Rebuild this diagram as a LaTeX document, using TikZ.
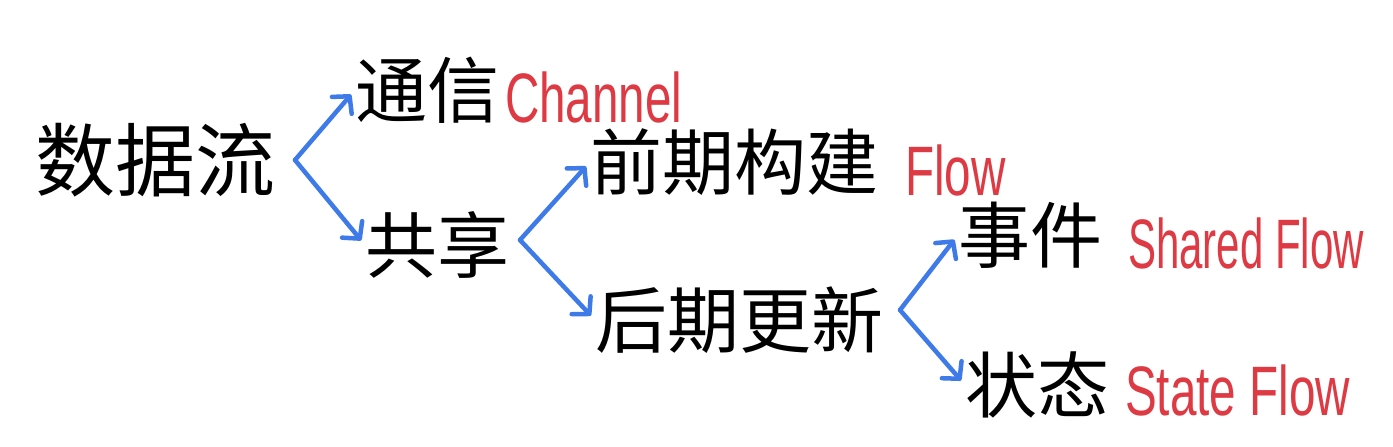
\documentclass[tikz,border=0pt]{standalone}
\usepackage{fontspec}
\newfontfamily\cjk{Noto Sans CJK SC}
\setmainfont{Liberation Sans}
\usetikzlibrary{arrows.meta}
\definecolor{redt}{RGB}{222,58,68}
\definecolor{bluea}{RGB}{62,122,232}
\begin{document}
\begin{tikzpicture}[x=1pt,y=-1pt,
 zh/.style={font=\cjk\fontsize{72}{72}\selectfont, inner sep=0pt, anchor=west},
 en/.style={font=\fontsize{70}{70}\selectfont, text=redt, xscale=0.68, inner sep=0pt, anchor=west},
 arr/.style={draw=bluea, line width=4.5pt, line cap=round, line join=round, shorten >=6pt,
   -{Straight Barb[length=12pt,width=26pt,line width=4.5pt,round]}}]
\fill[white] (0,0) rectangle (1393,447);
\useasboundingbox (0,0) rectangle (1393,447);
\node[zh, font=\cjk\fontsize{80}{80}\selectfont] (root) at (35,160) {数据流};
\node[zh] (tx) at (355,90) {通信};
\node[en] (ch) at (505,97) {Channel};
\node[zh] (gx) at (365,245) {共享};
\node[zh] (qq) at (590,162) {前期构建};
\node[en] (fl) at (905,170) {Flow};
\node[zh] (hq) at (595,320) {后期更新};
\node[zh] (sj) at (958,235) {事件};
\node[en, xscale=0.6/0.68] (sf) at (1128,243) {Shared Flow};
\node[zh] (zt) at (965,385) {状态};
\node[en] (stf) at (1125,390) {State Flow};
\coordinate (v1) at (295,160);
\coordinate (v2) at (520,240);
\coordinate (v3) at (900,310);
\draw[arr] (v1) -- (tx.west);
\draw[arr] (v1) -- (gx.west);
\draw[arr] (v2) -- (qq.west);
\draw[arr] (v2) -- (hq.west);
\draw[arr] (v3) -- (sj.west);
\draw[arr] (v3) -- (zt.west);
\end{tikzpicture}
\end{document}
